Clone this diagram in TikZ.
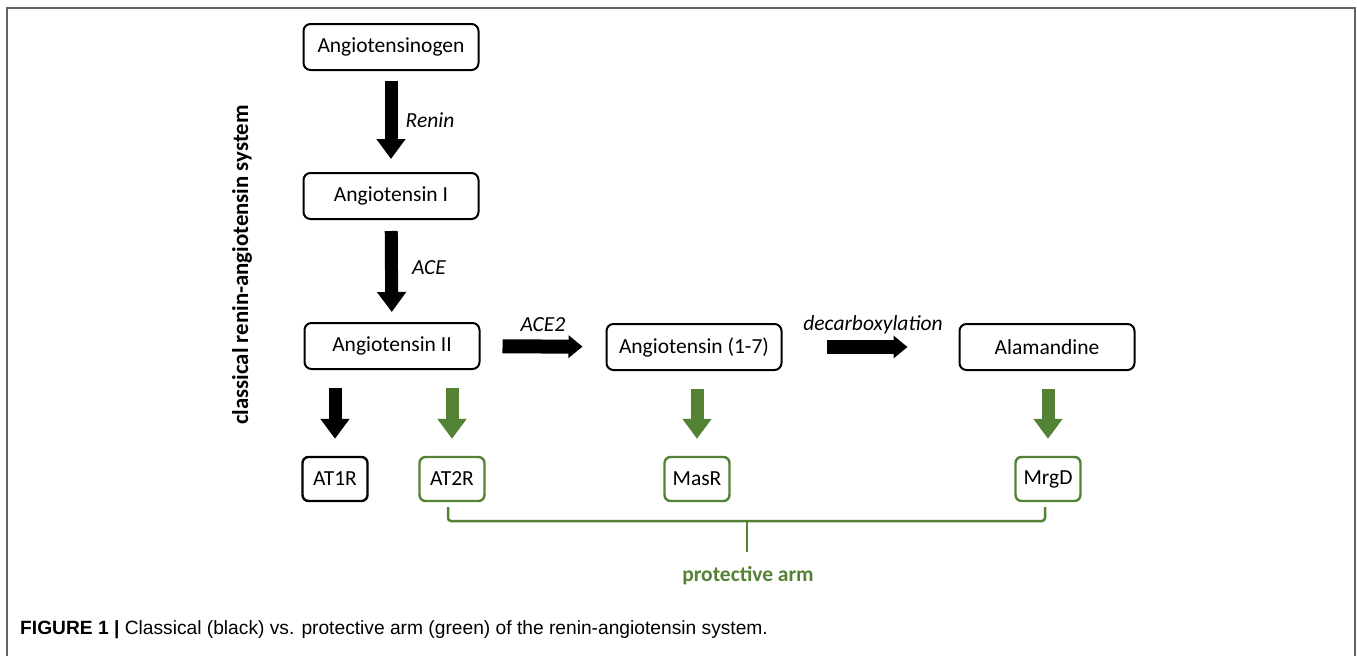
\documentclass[tikz,border=0pt]{standalone}
\usepackage{fontspec}
\setmainfont{Carlito}
\newfontfamily\capfont{Liberation Sans}
\usetikzlibrary{arrows.meta}
\definecolor{pgreen}{RGB}{84,130,53}
\definecolor{framegray}{RGB}{100,100,100}
\newcommand{\fs}{\fontsize{21.5}{26}\selectfont}
\tikzset{
  box/.style={draw, line width=2pt, rounded corners=7pt, minimum width=175pt, minimum height=46pt, inner sep=0pt, font=\fs},
  rbox/.style={draw, line width=2.4pt, rounded corners=6pt, minimum width=65pt, minimum height=44pt, inner sep=0pt, font=\fs},
  varrow/.style={line width=13pt, -{Triangle[width=28pt,length=20pt]}},
  harrow/.style={line width=14pt, -{Triangle[width=22pt,length=14pt]}},
  lbl/.style={font=\fs\itshape, inner sep=0pt},
}
\begin{document}
\begin{tikzpicture}[x=1pt,y=-1pt]
\useasboundingbox (0,0) rectangle (1357,656);
\draw[framegray, line width=1.5pt] (7,656) -- (7,8) -- (1355,8) -- (1355,656);

\node[box] (ag) at (391,47) {Angiotensinogen};
\node[box] (a1) at (391,196) {Angiotensin I};
\node[box] (a2) at (392,346) {Angiotensin II};
\node[box] (a17) at (694,347) {Angiotensin (1-7)};
\node[box] (ala) at (1047,347) {Alamandine};

\node[rbox] (at1) at (335,479) {AT1R};
\node[rbox, pgreen, text=black] (at2) at (452,479) {AT2R};
\node[rbox, pgreen, text=black] (mas) at (697,479) {MasR};
\node[rbox, pgreen, text=black] (mrg) at (1048,479) {MrgD};

\draw[varrow, shorten <=10pt, shorten >=13pt] (ag) -- (a1);
\draw[varrow, shorten <=11pt, shorten >=10pt] (a1) -- (a2);
\node[lbl] (renin) at (430,120) {Renin};
\node[lbl] (ace) at (429,268) {ACE};

\draw[harrow, shorten <=22pt, shorten >=23pt] (a2) -- (a17);
\draw[harrow, shorten <=44pt, shorten >=51pt] (a17) -- (ala);
\node[lbl] (ace2) at (543,325) {ACE2};
\node[lbl] (dec) at (873,325) {decarboxylation};

\draw[varrow, shorten <=18pt, shorten >=17pt] (a2.south -| at1) -- (at1.north);
\draw[varrow, pgreen, shorten <=18pt, shorten >=17pt] (a2.south -| at2) -- (at2.north);
\draw[varrow, pgreen, shorten <=18pt, shorten >=17pt] (a17.south -| mas) -- (mas.north);
\draw[varrow, pgreen, shorten <=18pt, shorten >=17pt] (ala.south -| mrg) -- (mrg.north);

\coordinate (bl) at (448,521);
\coordinate (br) at (1045,521);
\coordinate (bm) at (747,521);
\draw[pgreen, line width=2.5pt, rounded corners=3pt] ([yshift=-5pt]bl |- at2.south) -- (bl) -- (br) -- ([yshift=-5pt]br |- mrg.south);
\draw[pgreen, line width=2.5pt] (bm) -- ++(0,31);
\node[font=\fs\bfseries, text=pgreen] (prot) at (748,576) {protective arm};

\node[rotate=90, font=\fontsize{22.8}{27}\selectfont\bfseries] (cls) at (242,265) {classical renin-angiotensin system};

\node[anchor=base west, inner sep=0pt, font=\capfont\fontsize{19.2}{22}\selectfont] (cap) at (20,634) {\textbf{FIGURE 1 |} Classical (black) vs. protective arm (green) of the renin-angiotensin system.};
\end{tikzpicture}
\end{document}
